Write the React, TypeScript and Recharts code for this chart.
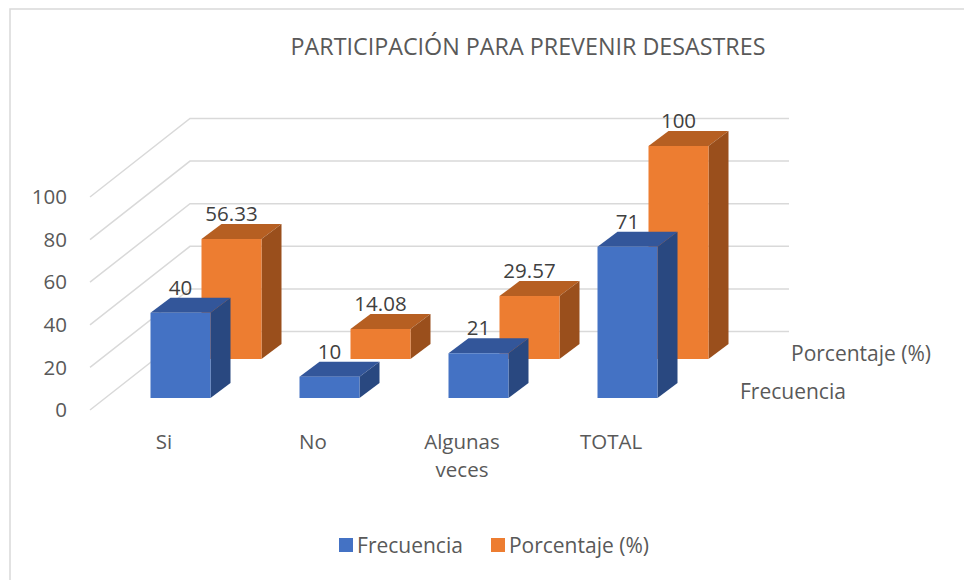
import React from "react";
import { BarChart, Bar, XAxis, YAxis, Legend, LabelList, Customized } from "recharts";

const categories = ["Si", "No", "Algunas veces", "TOTAL"];
const frecuencia = [40, 10, 21, 71];
const porcentaje = [56.33, 14.08, 29.57, 100];
const yTicks = [0, 20, 40, 60, 80, 100];
const title = "PARTICIPACIÓN PARA PREVENIR DESASTRES";

const rows = categories.map((c, i) => ({ c, f: frecuencia[i], p: porcentaje[i] }));

const FONT = "'Open Sans', sans-serif";
const TEXT = "#595959";
const GRID = "#d9d9d9";
const DX = 20;
const DY = 15;

const bar3d = (front: string, top: string, side: string) => (props: any) => {
  const { x, y, width: w, height: h } = props;
  return (
    <g>
      <path d={`M${x},${y} L${x + DX},${y - DY} L${x + w + DX},${y - DY} L${x + w},${y} Z`} fill={top} />
      <path d={`M${x + w},${y} L${x + w + DX},${y - DY} L${x + w + DX},${y + h - DY} L${x + w},${y + h} Z`} fill={side} />
      <rect x={x} y={y} width={w} height={h} fill={front} />
    </g>
  );
};

const WallTick = (props: any) => {
  const { y, payload } = props;
  const fx = 90;
  const bx = 190;
  return (
    <g>
      <polyline
        points={`${fx},${y + 12} ${bx},${y - 66.5} 789,${y - 66.5}`}
        fill="none"
        stroke={GRID}
        strokeWidth={1.5}
      />
      <text x={67} y={y + 12} dy="0.35em" textAnchor="end" fontFamily={FONT} fontSize={20.5} fill={TEXT}>
        {payload.value}
      </text>
    </g>
  );
};

const CatTick = (props: any) => {
  const { x, y, payload } = props;
  const words = payload.value === "Algunas veces" ? payload.value.split(" ") : [payload.value];
  return (
    <text x={x - 16} y={y} textAnchor="middle" fontFamily={FONT} fontSize={20.5} fill={TEXT}>
      {words.map((w: string, i: number) => (
        <tspan key={w} x={x - 16} y={y + 15 + i * 28}>
          {w}
        </tspan>
      ))}
    </text>
  );
};

const DataLabel = (props: any) => {
  const { x, y, width, value } = props;
  return (
    <text x={x + width / 2} y={y - 25} dy="0.35em" textAnchor="middle" fontFamily={FONT} fontSize={20.5} fill="#404040">
      {value}
    </text>
  );
};

const Extras = () => (
  <g fontFamily={FONT} fill={TEXT}>
    <rect x={10} y={9} width={1000} height={1000} fill="none" stroke={GRID} strokeWidth={1.5} />
    <text x={528} y={47} dy="0.35em" textAnchor="middle" fontSize={23.3}>
      {title}
    </text>
    <text x={791} y={354} dy="0.35em" fontSize={21}>Porcentaje (%)</text>
    <text x={740} y={392} dy="0.35em" fontSize={21}>Frecuencia</text>
  </g>
);

const LegendBox = ({ payload }: any) => {
  const items = [...(payload || [])].sort((a: any, b: any) => String(a.value).localeCompare(String(b.value)));
  return (
    <div style={{ display: "flex", justifyContent: "center", alignItems: "center", height: 28, gap: 28 }}>
      {items.map((it: any) => (
        <div key={it.value} style={{ display: "flex", alignItems: "center", gap: 4, color: TEXT }}>
          <span style={{ width: 14, height: 14, background: it.color, display: "inline-block" }} />
          <span>{it.value}</span>
        </div>
      ))}
    </div>
  );
};

const layer: React.CSSProperties = { position: "absolute", left: 0, top: 0 };

export default function App() {
  return (
    <div style={{ position: "absolute", left: 0, top: 0, width: 964, height: 580, background: "#fff", overflow: "hidden" }}>
      <div style={layer}>
        <BarChart
          width={964}
          height={580}
          data={rows}
          margin={{ top: 146, bottom: 182, left: 65.5, right: 211.5 }}
        >
          <Customized component={Extras} />
          <XAxis xAxisId="front" dataKey="c" hide />
          <YAxis
            yAxisId="front"
            width={40}
            domain={[0, 100]}
            ticks={yTicks}
            padding={{ top: 39, bottom: 0 }}
            axisLine={false}
            tickLine={false}
            tick={<WallTick />}
          />
          <Bar xAxisId="front" yAxisId="front" dataKey="f" fill="none" isAnimationActive={false} legendType="none" />
        </BarChart>
      </div>
      <div style={layer}>
        <BarChart
          width={964}
          height={580}
          data={rows}
          barSize={60}
          margin={{ top: 146, bottom: 94, left: 65.5, right: 211.5 }}
        >
          <XAxis xAxisId="back" dataKey="c" hide padding={{ left: 51, right: 0 }} />
          <XAxis
            xAxisId="front"
            dataKey="c"
            padding={{ left: 0, right: 51 }}
            axisLine={false}
            tickLine={false}
            height={60}
            tickMargin={0}
            interval={0}
            tick={<CatTick />}
          />
          <YAxis yAxisId="back" hide domain={[0, 100]} padding={{ top: 0, bottom: 39 }} />
          <YAxis
            yAxisId="front"
            width={40}
            domain={[0, 100]}
            ticks={yTicks}
            padding={{ top: 39, bottom: 0 }}
            axisLine={false}
            tickLine={false}
            tick={false}
          />
          <Bar
            xAxisId="back"
            yAxisId="back"
            dataKey="p"
            name="Porcentaje (%)"
            fill="#ED7D31"
            isAnimationActive={false}
            shape={bar3d("#ED7D31", "#B65F22", "#9A4F1C")}
          >
            <LabelList dataKey="p" content={<DataLabel />} />
          </Bar>
          <Bar
            xAxisId="front"
            yAxisId="front"
            dataKey="f"
            name="Frecuencia"
            fill="#4472C4"
            isAnimationActive={false}
            shape={bar3d("#4472C4", "#33569A", "#294880")}
          >
            <LabelList dataKey="f" content={<DataLabel />} />
          </Bar>
          <Legend
            verticalAlign="bottom"
            content={<LegendBox />}
            wrapperStyle={{ position: "absolute", left: 0, width: 988, top: 531, height: 28, fontFamily: FONT, fontSize: 21 }}
          />
        </BarChart>
      </div>
    </div>
  );
}
